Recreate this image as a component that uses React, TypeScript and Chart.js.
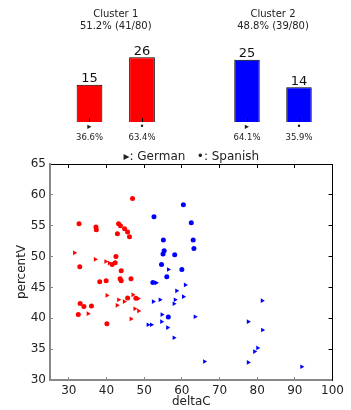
import { useEffect, useRef } from "react";
import { Chart, registerables } from "chart.js";
Chart.register(...registerables);

const FONT = "'DejaVu Sans', sans-serif";
const TEXT = "#222";

const clusterTitles = ["Cluster 1", "Cluster 2"];
const clusterShares = ["51.2% (41/80)", "48.8% (39/80)"];
const languageMarks = ["▸", "•"];
const cluster1Counts = [15, 26];
const cluster2Counts = [25, 14];
const cluster1Shares = ["36.6%", "63.4%"];
const cluster2Shares = ["64.1%", "35.9%"];
const legendText = "▸: German   •: Spanish";

const xTickValues = [30, 40, 50, 60, 70, 80, 90, 100];
const yTickValues = [30, 35, 40, 45, 50, 55, 60, 65];

const cluster1Spanish = [
  { x: 46.9, y: 59.4 }, { x: 32.7, y: 55.3 }, { x: 37.2, y: 54.8 }, { x: 37.3, y: 54.35 },
  { x: 43.2, y: 55.3 }, { x: 43.7, y: 55.0 }, { x: 44.8, y: 54.5 }, { x: 45.6, y: 54.0 },
  { x: 42.9, y: 53.7 }, { x: 46.1, y: 53.2 }, { x: 32.9, y: 48.35 }, { x: 42.5, y: 50.0 },
  { x: 42.3, y: 49.0 }, { x: 41.5, y: 48.7 }, { x: 43.9, y: 47.7 }, { x: 38.2, y: 45.9 },
  { x: 39.9, y: 46.1 }, { x: 43.6, y: 46.4 }, { x: 43.9, y: 46.1 }, { x: 46.5, y: 46.4 },
  { x: 45.6, y: 43.3 }, { x: 47.8, y: 43.25 }, { x: 33.0, y: 42.4 }, { x: 34.0, y: 41.9 },
  { x: 36.0, y: 42.0 }, { x: 32.5, y: 40.6 }, { x: 40.1, y: 39.1 },
];
const cluster1German = [
  { x: 31.5, y: 50.6 }, { x: 37.0, y: 49.55 }, { x: 39.8, y: 49.2 }, { x: 40.7, y: 48.95 },
  { x: 40.1, y: 43.7 }, { x: 43.2, y: 43.0 }, { x: 44.7, y: 42.7 }, { x: 42.8, y: 42.1 },
  { x: 47.0, y: 43.8 }, { x: 48.4, y: 43.2 }, { x: 47.5, y: 41.55 }, { x: 48.5, y: 41.2 },
  { x: 35.1, y: 40.75 }, { x: 46.5, y: 39.9 },
];
const cluster2Spanish = [
  { x: 60.4, y: 58.4 }, { x: 52.6, y: 56.45 }, { x: 62.5, y: 55.5 }, { x: 55.1, y: 52.7 },
  { x: 63.0, y: 52.7 }, { x: 63.2, y: 51.3 }, { x: 55.3, y: 50.95 }, { x: 55.0, y: 50.4 },
  { x: 58.1, y: 50.3 }, { x: 54.6, y: 48.7 }, { x: 60.0, y: 47.9 }, { x: 56.0, y: 46.75 },
  { x: 52.3, y: 45.8 }, { x: 56.4, y: 40.2 },
];
const cluster2German = [
  { x: 56.4, y: 47.9 }, { x: 53.2, y: 45.75 }, { x: 60.9, y: 45.4 }, { x: 58.6, y: 44.45 },
  { x: 60.4, y: 43.5 }, { x: 54.2, y: 43.0 }, { x: 52.4, y: 42.7 }, { x: 58.2, y: 43.0 },
  { x: 57.9, y: 42.35 }, { x: 54.7, y: 40.6 }, { x: 63.5, y: 40.25 }, { x: 54.6, y: 39.45 },
  { x: 51.0, y: 38.95 }, { x: 51.9, y: 38.95 }, { x: 56.2, y: 38.5 }, { x: 57.9, y: 36.85 },
  { x: 81.3, y: 42.85 }, { x: 77.6, y: 39.45 }, { x: 81.4, y: 38.1 }, { x: 80.1, y: 35.2 },
  { x: 79.3, y: 34.6 }, { x: 77.6, y: 32.85 }, { x: 91.8, y: 32.15 }, { x: 66.0, y: 33.0 },
];

const barValueLabels = {
  id: "barValueLabels",
  afterDatasetsDraw(chart: any) {
    const ctx = chart.ctx;
    ctx.save();
    ctx.font = `13px ${FONT}`;
    ctx.fillStyle = "#111";
    ctx.textAlign = "center";
    ctx.textBaseline = "alphabetic";
    chart.data.datasets.forEach((ds: any, di: number) => {
      chart.getDatasetMeta(di).data.forEach((el: any, i: number) => {
        ctx.fillText(String(ds.data[i]), el.x, el.y - 2.5);
      });
    });
    ctx.restore();
  },
};

type BarProps = {
  title: string;
  subtitle: string;
  counts: number[];
  shares: string[];
  color: string;
  left: number;
  width: number;
  padLeft: number;
  padRight: number;
};

function ClusterBars(p: BarProps) {
  const ref = useRef<HTMLCanvasElement>(null);
  useEffect(() => {
    if (!ref.current) return;
    const chart = new Chart(ref.current, {
      type: "bar",
      data: {
        labels: p.counts.map((_, i) => [languageMarks[i], p.shares[i]]),
        datasets: [
          {
            data: p.counts,
            backgroundColor: p.color,
            borderColor: "#000",
            borderWidth: 1,
            categoryPercentage: 1,
            barPercentage: 0.49,
          },
        ],
      },
      options: {
        responsive: false,
        animation: false,
        layout: { padding: { left: p.padLeft, right: p.padRight, top: 0, bottom: 0 } },
        plugins: {
          legend: { display: false },
          tooltip: { enabled: false },
          title: {
            display: true,
            text: p.title,
            color: TEXT,
            font: { family: FONT, size: 10, weight: "normal", lineHeight: 1.2 },
            padding: { top: 8.7, bottom: 0 },
          },
          subtitle: {
            display: true,
            text: p.subtitle,
            color: TEXT,
            font: { family: FONT, size: 10, weight: "normal", lineHeight: 1.2 },
            padding: { top: 0, bottom: 0 },
          },
        },
        scales: {
          x: {
            type: "category",
            grid: {
              display: true,
              drawOnChartArea: false,
              drawTicks: true,
              tickLength: -4,
              offset: false,
              color: "#000",
              z: 1,
            },
            border: { display: false },
            ticks: {
              color: TEXT,
              padding: 3.2,
              font: { family: FONT, size: 8.5, lineHeight: 1.3 },
              maxRotation: 0,
              autoSkip: false,
            },
            afterFit: (s: any) => {
              s.height = 28;
            },
          },
          y: { display: false, min: 0, max: 35.9 },
        },
      },
      plugins: [barValueLabels],
    } as any);
    return () => chart.destroy();
  }, []);
  return (
    <canvas
      ref={ref}
      width={p.width}
      height={150}
      style={{ position: "absolute", left: p.left, top: 0, width: p.width, height: 150 }}
    />
  );
}

function Scatter() {
  const ref = useRef<HTMLCanvasElement>(null);
  useEffect(() => {
    if (!ref.current) return;
    const greyGrid = {
      display: true,
      drawOnChartArea: false,
      drawTicks: true,
      tickLength: -3,
      color: "#888",
    };
    const blackGrid = {
      display: true,
      drawOnChartArea: false,
      drawTicks: true,
      tickLength: -4,
      color: "#000",
    };
    const setX = (s: any) => {
      s.ticks = xTickValues.map((v) => ({ value: v }));
    };
    const setY = (s: any) => {
      s.ticks = yTickValues.map((v) => ({ value: v }));
    };
    const tickFont = { family: FONT, size: 12 };
    const ds = (data: any[], color: string, style: string, r: number, rot: number) => ({
      data,
      backgroundColor: color,
      borderColor: color,
      pointBackgroundColor: color,
      pointBorderWidth: 0,
      pointStyle: style,
      pointRadius: r,
      pointRotation: rot,
      xAxisID: "x",
      yAxisID: "y",
    });
    const chart = new Chart(ref.current, {
      type: "scatter",
      data: {
        datasets: [
          ds(cluster1Spanish, "#ff0000", "circle", 2.5, 0),
          ds(cluster1German, "#ff0000", "triangle", 2.7, 90),
          ds(cluster2Spanish, "#0000ff", "circle", 2.5, 0),
          ds(cluster2German, "#0000ff", "triangle", 2.7, 90),
        ],
      },
      options: {
        responsive: false,
        animation: false,
        layout: { padding: 0 },
        plugins: { legend: { display: false }, tooltip: { enabled: false } },
        scales: {
          x: {
            type: "linear",
            position: "bottom",
            min: 25,
            max: 100,
            afterBuildTicks: setX,
            grid: greyGrid,
            border: { display: true, color: "#888", width: 2 },
            ticks: { color: TEXT, font: tickFont, padding: 7 },
            title: {
              display: true,
              text: "deltaC",
              color: TEXT,
              font: { family: FONT, size: 12, lineHeight: 1.2 },
              padding: { top: 0, bottom: 0.5 },
            },
            afterFit: (s: any) => {
              s.height = 30;
            },
          },
          xTop: {
            type: "linear",
            position: "top",
            min: 25,
            max: 100,
            afterBuildTicks: setX,
            grid: blackGrid,
            border: { display: true, color: "#000", width: 1 },
            ticks: { display: false },
            title: {
              display: true,
              text: legendText,
              color: TEXT,
              font: { family: FONT, size: 12, lineHeight: 1.2 },
              padding: { top: 4.8, bottom: 0 },
            },
            afterFit: (s: any) => {
              s.height = 19;
            },
          },
          y: {
            type: "linear",
            position: "left",
            min: 30,
            max: 65,
            afterBuildTicks: setY,
            grid: greyGrid,
            border: { display: true, color: "#888", width: 2 },
            ticks: { color: TEXT, font: tickFont, padding: 7 },
            title: {
              display: true,
              text: "percentV",
              color: TEXT,
              font: { family: FONT, size: 12, lineHeight: 1.2 },
              padding: { top: 14.6, bottom: 0 },
            },
            afterFit: (s: any) => {
              s.width = 50;
            },
          },
          yRight: {
            type: "linear",
            position: "right",
            min: 30,
            max: 65,
            afterBuildTicks: setY,
            grid: blackGrid,
            border: { display: true, color: "#000", width: 1 },
            ticks: { display: false },
            afterFit: (s: any) => {
              s.width = 12;
            },
          },
        },
      },
    } as any);
    return () => chart.destroy();
  }, []);
  return (
    <canvas
      ref={ref}
      width={351}
      height={265}
      style={{ position: "absolute", left: 0, top: 145, width: 351, height: 265 }}
    />
  );
}

export default function App() {
  return (
    <div
      style={{
        position: "absolute",
        left: 0,
        top: 0,
        width: 351,
        height: 410,
        background: "#fff",
        overflow: "hidden",
      }}
    >
      <ClusterBars
        title={clusterTitles[0]}
        subtitle={clusterShares[0]}
        counts={cluster1Counts}
        shares={cluster1Shares}
        color="#ff0000"
        left={0}
        width={175}
        padLeft={63.25}
        padRight={6.75}
      />
      <ClusterBars
        title={clusterTitles[1]}
        subtitle={clusterShares[1]}
        counts={cluster2Counts}
        shares={cluster2Shares}
        color="#0000ff"
        left={175}
        width={176}
        padLeft={46}
        padRight={26}
      />
      <Scatter />
    </div>
  );
}
